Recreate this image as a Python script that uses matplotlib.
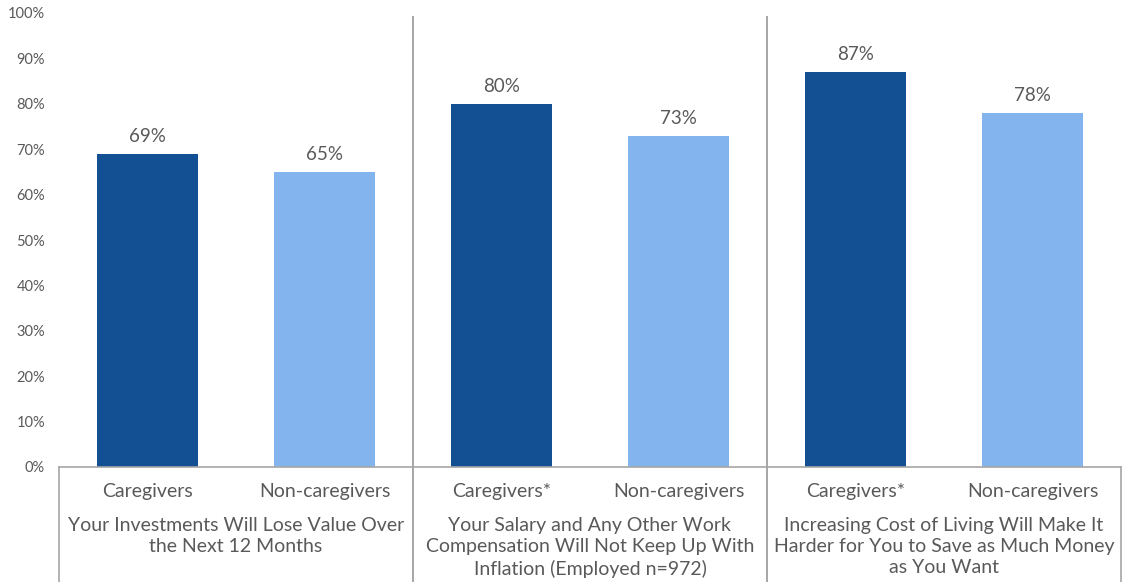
import matplotlib
matplotlib.use('Agg')
import matplotlib.pyplot as plt
from matplotlib.lines import Line2D
from matplotlib.transforms import blended_transform_factory

GREY_TEXT = '#595959'
GREY_LINE = '#a6a6a6'
DARK = '#124f93'
LIGHT = '#83b4ee'

# data
sub_labels = ['Caregivers', 'Non-caregivers', 'Caregivers*', 'Non-caregivers',
              'Caregivers*', 'Non-caregivers']
group_labels = ['Your Investments Will Lose Value Over\nthe Next 12 Months',
                'Your Salary and Any Other Work\nCompensation Will Not Keep Up With\nInflation (Employed n=972)',
                'Increasing Cost of Living Will Make It\nHarder for You to Save as Much Money\nas You Want']
values = [69, 65, 80, 73, 87, 78]
y_ticks = [0, 10, 20, 30, 40, 50, 60, 70, 80, 90, 100]

plt.rcParams['font.family'] = ['Lato', 'DejaVu Sans']

W, H = 1130, 582
fig = plt.figure(figsize=(W / 100, H / 100), dpi=100)
left, right, top, bottom = 59, 1121, 13, 467
ax = fig.add_axes([left / W, 1 - bottom / H, (right - left) / W, (bottom - top) / H])

xs = list(range(len(values)))
colors = [DARK if i % 2 == 0 else LIGHT for i in xs]
ax.bar(xs, values, width=0.565, color=colors, zorder=2)
for x, v in zip(xs, values):
    ax.text(x, v + 2, '{}%'.format(v), ha='center', va='bottom',
            fontsize=13.5, color=GREY_TEXT)

ax.set_xlim(-0.5, len(values) - 0.5)
ax.set_ylim(0, 100)
ax.set_yticks(y_ticks)
ax.set_yticklabels(['{}%'.format(t) for t in y_ticks], fontsize=10.5, color=GREY_TEXT)
ax.tick_params(axis='y', length=0, pad=10)
ax.set_xticks([])
for s in ['top', 'right', 'left']:
    ax.spines[s].set_visible(False)
ax.spines['bottom'].set_color(GREY_LINE)
ax.spines['bottom'].set_linewidth(1.2)

# category labels under the axis
trans = blended_transform_factory(ax.transData, fig.transFigure)
for x, lab in zip(xs, sub_labels):
    ax.text(x, 1 - 492 / H, lab, transform=trans, ha='center', va='center',
            fontsize=14, color=GREY_TEXT)
for g, lab in enumerate(group_labels):
    ax.text(2 * g + 0.5, 1 - 517 / H, lab, transform=trans, ha='center', va='top',
            fontsize=14, color=GREY_TEXT, linespacing=1.3)

# box lines and group separators
for px in [left, right]:
    fig.add_artist(Line2D([px / W, px / W], [0, 1 - bottom / H],
                          color=GREY_LINE, lw=1.2))
for xd in [1.5, 3.5]:
    ax.plot([xd, xd], [0, 1 - 17 / H], transform=trans, color=GREY_LINE,
            lw=1.4, clip_on=False, zorder=3)

fig.savefig('out.png', dpi=100)
